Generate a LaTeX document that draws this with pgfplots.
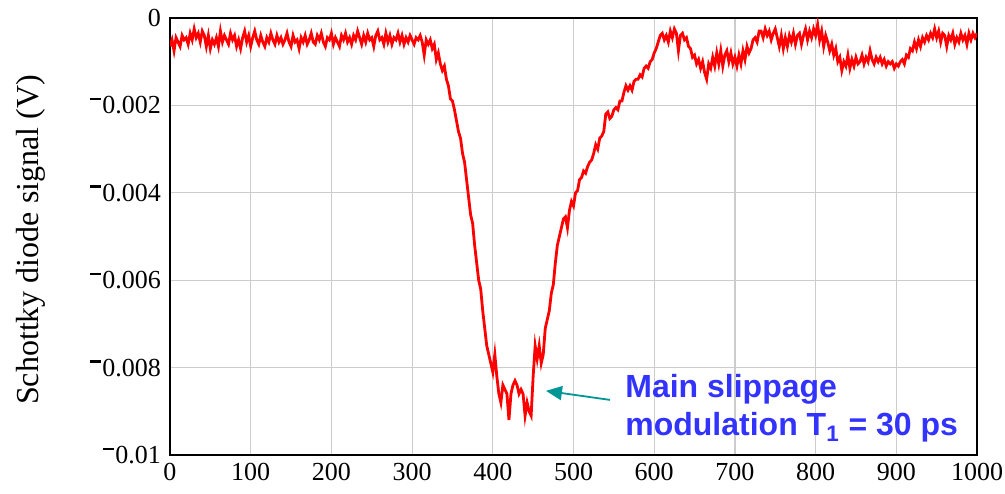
\documentclass[border=0pt]{standalone}
\usepackage{pgfplots}
\pgfplotsset{compat=1.18}
\usepackage{fontspec}
\setmainfont{Liberation Serif}
\newfontfamily\annfont{Liberation Sans}
\usetikzlibrary{arrows.meta}
\definecolor{sigred}{RGB}{255,0,0}
\definecolor{annblue}{RGB}{51,51,255}
\definecolor{arrowteal}{RGB}{0,150,150}
\definecolor{gridgray}{RGB}{204,204,204}
% short raised minus used in the y tick labels
\newcommand\negsign{\rule[0.52em]{0.42em}{0.09em}\kern0.04em}

\begin{document}
\begin{tikzpicture}
\useasboundingbox (-85pt,-19pt) rectangle (417.5pt,227.5pt);
\begin{axis}[
  at={(0,0)}, anchor=south west,
  scale only axis, width=403.5pt, height=218.5pt,
  xmin=0, xmax=1000, ymin=-0.01, ymax=0,
  xtick={0,100,200,300,400,500,600,700,800,900,1000},
  xticklabels={0,100,200,300,400,500,600,700,800,900,1000},
  ytick={-0.01,-0.008,-0.006,-0.004,-0.002,0},
  yticklabels={\negsign0.01,\negsign0.008,\negsign0.006,\negsign0.004,\negsign0.002,0},
  scaled y ticks=false,
  grid=major,
  grid style={draw=gridgray, line width=0.6pt},
  axis line style={line width=1pt},
  major tick length=0pt,
  ticklabel style={font=\fontsize{13}{15}\selectfont},
  xticklabel style={yshift=-0.5pt},
  yticklabel style={xshift=-1pt},
]
\addplot[sigred, line width=1.4pt] coordinates {
(0,-0.00065) (2.5,-0.0005) (5,-0.00075) (7.5,-0.00045) (10,-0.00055) (12.5,-0.00065) (15,-0.0004) (17.5,-0.0005)
(20,-0.00045) (22.5,-0.0006) (25,-0.00035) (27.5,-0.0005) (30,-0.00025) (32.5,-0.00045) (35,-0.00035) (37.5,-0.00055)
(40,-0.0003) (42.5,-0.0004) (45,-0.00065) (47.5,-0.0004) (50,-0.0007) (52.5,-0.0005) (55,-0.0006) (57.5,-0.00045)
(60,-0.00065) (62.5,-0.0003) (65,-0.00055) (67.5,-0.0004) (70,-0.0005) (72.5,-0.0006) (75,-0.00035) (77.5,-0.0005)
(80,-0.0004) (82.5,-0.00065) (85,-0.0005) (87.5,-0.0007) (90,-0.00045) (92.5,-0.0003) (95,-0.00055) (97.5,-0.0004)
(100,-0.00065) (102.5,-0.00045) (105,-0.0003) (107.5,-0.0005) (110,-0.0006) (112.5,-0.0004) (115,-0.00055) (117.5,-0.00065)
(120,-0.00045) (122.5,-0.00055) (125,-0.00035) (127.5,-0.0005) (130,-0.0006) (132.5,-0.0004) (135,-0.00055) (137.5,-0.00045)
(140,-0.0006) (142.5,-0.0005) (145,-0.00035) (147.5,-0.00055) (150,-0.00065) (152.5,-0.0004) (155,-0.00055) (157.5,-0.0005)
(160,-0.0007) (162.5,-0.00045) (165,-0.00055) (167.5,-0.0004) (170,-0.0006) (172.5,-0.0005) (175,-0.00035) (177.5,-0.00055)
(180,-0.0006) (182.5,-0.0004) (185,-0.0005) (187.5,-0.00035) (190,-0.00055) (192.5,-0.00065) (195,-0.00045) (197.5,-0.0005)
(200,-0.00035) (202.5,-0.0006) (205,-0.00045) (207.5,-0.00055) (210,-0.00065) (212.5,-0.0004) (215,-0.0005) (217.5,-0.00035)
(220,-0.00055) (222.5,-0.00045) (225,-0.0006) (227.5,-0.0004) (230,-0.0005) (232.5,-0.0003) (235,-0.00045) (237.5,-0.0006)
(240,-0.0004) (242.5,-0.00055) (245,-0.00035) (247.5,-0.0005) (250,-0.00045) (252.5,-0.00065) (255,-0.0004) (257.5,-0.0003)
(260,-0.0005) (262.5,-0.00045) (265,-0.0006) (267.5,-0.00035) (270,-0.00055) (272.5,-0.0004) (275,-0.0006) (277.5,-0.00045)
(280,-0.0005) (282.5,-0.00035) (285,-0.00055) (287.5,-0.0004) (290,-0.0006) (292.5,-0.00045) (295,-0.00055) (297.5,-0.0004)
(300,-0.0005) (302.5,-0.0006) (305,-0.00045) (307.5,-0.0005) (310,-0.0004) (312.5,-0.00055) (315,-0.00085) (317.5,-0.0005)
(320,-0.0006) (322.5,-0.0005) (325,-0.0007) (327.5,-0.0006) (330,-0.00095) (332.5,-0.0008) (335,-0.00105) (337.5,-0.0012)
(340,-0.0011) (342.5,-0.0014) (345,-0.00155) (347.5,-0.00185) (350,-0.0019) (352.5,-0.0021) (355,-0.00235) (357.5,-0.0026)
(360,-0.00275) (362.5,-0.0031) (365,-0.0033) (367.5,-0.0037) (370,-0.0041) (372.5,-0.0045) (375,-0.0047) (377.5,-0.0052)
(380,-0.0056) (382.5,-0.006) (385,-0.0062) (387.5,-0.0067) (390,-0.0071) (392.5,-0.0075) (395,-0.0077) (397.5,-0.0079)
(400,-0.0081) (402.5,-0.0077) (405,-0.0082) (407.5,-0.0086) (410,-0.0088) (412.5,-0.0084) (415,-0.0085) (417.5,-0.0086)
(420,-0.0092) (422.5,-0.0086) (425,-0.0084) (427.5,-0.0083) (430,-0.0084) (432.5,-0.0086) (435,-0.0085) (437.5,-0.0086)
(440,-0.0091) (442.5,-0.0088) (445,-0.009) (447.5,-0.0091) (450,-0.0082) (452.5,-0.0075) (455,-0.0078) (457.5,-0.0075)
(460,-0.0079) (462.5,-0.0077) (465,-0.0071) (467.5,-0.0069) (470,-0.0067) (472.5,-0.0063) (475,-0.0061) (477.5,-0.0056)
(480,-0.0052) (482.5,-0.005) (485,-0.0048) (487.5,-0.0046) (490,-0.00455) (492.5,-0.0048) (495,-0.0044) (497.5,-0.0042)
(500,-0.0043) (502.5,-0.004) (505,-0.00395) (507.5,-0.0037) (510,-0.00365) (512.5,-0.0035) (515,-0.00355) (517.5,-0.0034)
(520,-0.0033) (522.5,-0.00325) (525,-0.0031) (527.5,-0.0029) (530,-0.003) (532.5,-0.00275) (535,-0.0027) (537.5,-0.0026)
(540,-0.0022) (542.5,-0.00215) (545,-0.0023) (547.5,-0.00225) (550,-0.0021) (552.5,-0.00205) (555,-0.0021) (557.5,-0.0019)
(560,-0.0019) (562.5,-0.0017) (565,-0.00155) (567.5,-0.00165) (570,-0.00155) (572.5,-0.00165) (575,-0.00145) (577.5,-0.0014)
(580,-0.0014) (582.5,-0.0013) (585,-0.00135) (587.5,-0.00115) (590,-0.0011) (592.5,-0.00115) (595,-0.001) (597.5,-0.00095)
(600,-0.0008) (602.5,-0.0007) (605,-0.00055) (607.5,-0.0004) (610,-0.00035) (612.5,-0.0005) (615,-0.0004) (617.5,-0.00055)
(620,-0.0003) (622.5,-0.00045) (625,-0.00025) (627.5,-0.00035) (630,-0.00075) (632.5,-0.0004) (635,-0.00035) (637.5,-0.0005)
(640,-0.00045) (642.5,-0.00065) (645,-0.0007) (647.5,-0.0009) (650,-0.00085) (652.5,-0.00105) (655,-0.00095) (657.5,-0.00115)
(660,-0.001) (662.5,-0.00125) (665,-0.0014) (667.5,-0.00105) (670,-0.00115) (672.5,-0.0009) (675,-0.0011) (677.5,-0.0008)
(680,-0.00105) (682.5,-0.00075) (685,-0.0011) (687.5,-0.00085) (690,-0.00075) (692.5,-0.001) (695,-0.0008) (697.5,-0.00105)
(700,-0.0009) (702.5,-0.0011) (705,-0.00085) (707.5,-0.00105) (710,-0.00075) (712.5,-0.00095) (715,-0.00065) (717.5,-0.0008)
(720,-0.0007) (722.5,-0.0005) (725,-0.00045) (727.5,-0.00055) (730,-0.0003) (732.5,-0.0003) (735,-0.00045) (737.5,-0.00025)
(740,-0.0004) (742.5,-0.0003) (745,-0.0005) (747.5,-0.00035) (750,-0.00025) (752.5,-0.00045) (755,-0.00065) (757.5,-0.0004)
(760,-0.0007) (762.5,-0.00045) (765,-0.00065) (767.5,-0.0004) (770,-0.00055) (772.5,-0.00035) (775,-0.0006) (777.5,-0.0004)
(780,-0.00035) (782.5,-0.0006) (785,-0.0004) (787.5,-0.00025) (790,-0.0005) (792.5,-0.0003) (795,-0.00045) (797.5,-0.00025)
(800,-0.0004) (802.5,-0.00015) (805,-0.0005) (807.5,-0.0003) (810,-0.00065) (812.5,-0.0004) (815,-0.00055) (817.5,-0.00075)
(820,-0.0006) (822.5,-0.00085) (825,-0.0007) (827.5,-0.001) (830,-0.0009) (832.5,-0.0012) (835,-0.001) (837.5,-0.0011)
(840,-0.00085) (842.5,-0.00115) (845,-0.00095) (847.5,-0.0011) (850,-0.0009) (852.5,-0.00105) (855,-0.001) (857.5,-0.00085)
(860,-0.00105) (862.5,-0.0009) (865,-0.001) (867.5,-0.00075) (870,-0.00095) (872.5,-0.00105) (875,-0.0009) (877.5,-0.001)
(880,-0.0009) (882.5,-0.00105) (885,-0.00095) (887.5,-0.0011) (890,-0.001) (892.5,-0.00105) (895,-0.001) (897.5,-0.00115)
(900,-0.00105) (902.5,-0.0011) (905,-0.001) (907.5,-0.00095) (910,-0.00105) (912.5,-0.00085) (915,-0.0009) (917.5,-0.0007)
(920,-0.00075) (922.5,-0.00055) (925,-0.0007) (927.5,-0.0005) (930,-0.00065) (932.5,-0.00045) (935,-0.00055) (937.5,-0.0004)
(940,-0.0005) (942.5,-0.00035) (945,-0.00045) (947.5,-0.00025) (950,-0.00045) (952.5,-0.0003) (955,-0.00055) (957.5,-0.00035)
(960,-0.0004) (962.5,-0.00065) (965,-0.0004) (967.5,-0.0005) (970,-0.00035) (972.5,-0.0006) (975,-0.00045) (977.5,-0.00055)
(980,-0.00035) (982.5,-0.0005) (985,-0.0004) (987.5,-0.0006) (990,-0.00035) (992.5,-0.0005) (995,-0.00035) (997.5,-0.00045)
(1000,-0.00035)
};
% annotation of the trough
\draw[arrowteal, line width=0.9pt, -{Triangle[length=8pt,width=7pt]}]
  (axis cs:545.2,-0.008739) -- (axis cs:465.9,-0.008532);
\node[anchor=base west, inner sep=0pt, text=annblue, font=\annfont\bfseries\fontsize{16}{19}\selectfont]
  at (axis cs:563.8,-0.008693) {Main slippage};
\node[anchor=base west, inner sep=0pt, text=annblue, font=\annfont\bfseries\fontsize{16}{19}\selectfont]
  at (axis cs:563.8,-0.009564) {modulation T\textsubscript{1} = 30 ps};
\end{axis}
\node[rotate=90, anchor=base, inner sep=0pt, font=\fontsize{16}{19}\selectfont]
  at (-65.5pt,107.5pt) {Schottky diode signal (V)};
\end{tikzpicture}
\end{document}
